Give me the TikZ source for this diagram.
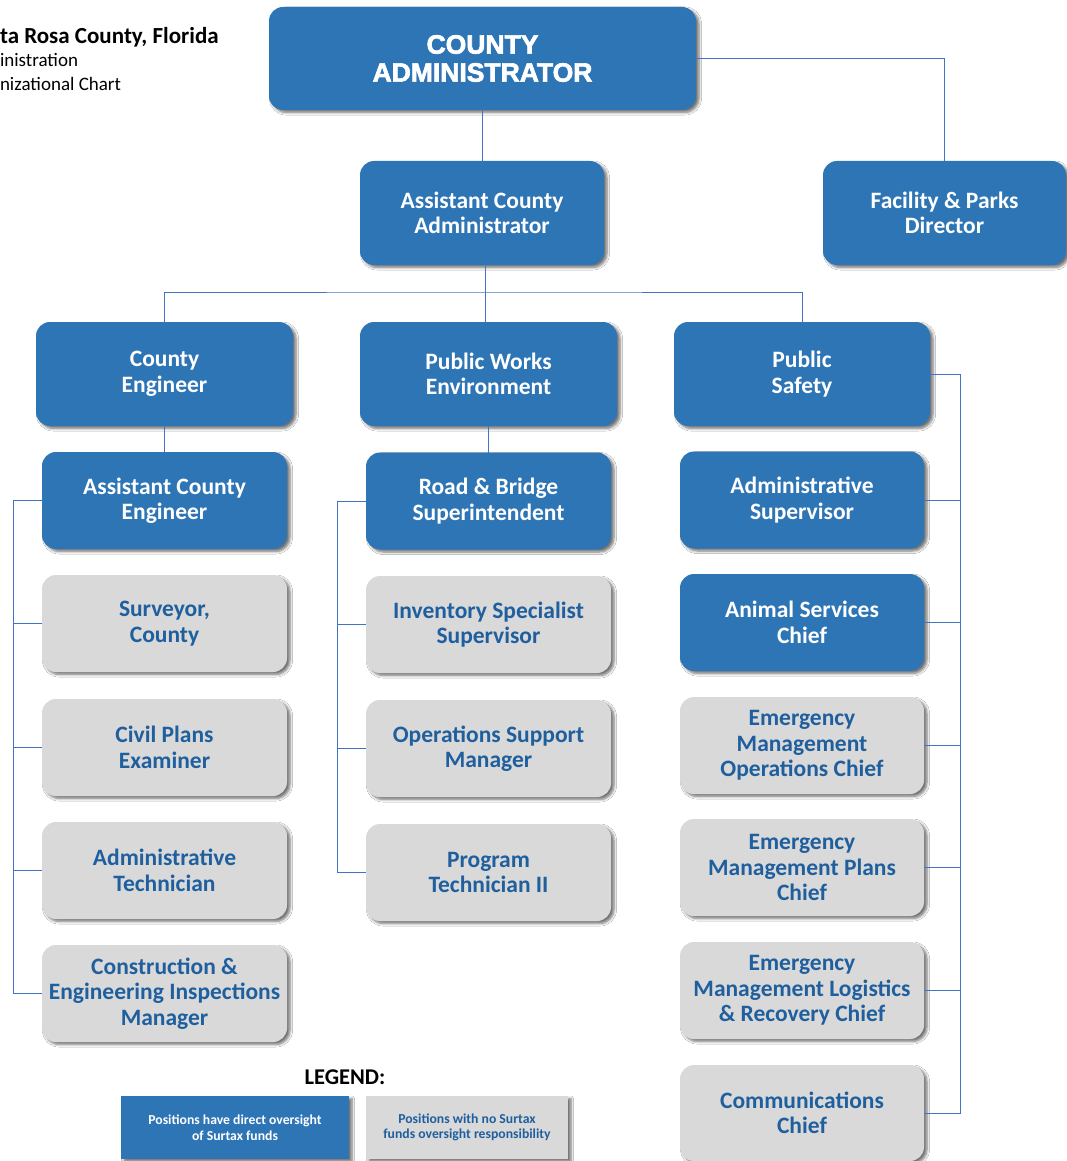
\documentclass[tikz,border=0pt]{standalone}
\usepackage{fontspec}
\setmainfont{Carlito}
\newfontfamily\titlefont[FakeBold=2.5]{Liberation Sans Bold}
\usetikzlibrary{shadows.blur}
\definecolor{boxblue}{HTML}{2E75B6}
\definecolor{boxgrey}{HTML}{D9D9D9}
\definecolor{txtblue}{HTML}{1F5F9E}
\definecolor{linecol}{HTML}{4472C4}
\tikzset{
  base/.style={rounded corners=14pt, minimum width=245pt, minimum height=97pt,
    inner sep=0pt, outer sep=0pt, align=center,
    font=\bfseries\fontsize{23.5}{25.5}\selectfont,
    blur shadow={shadow xshift=3pt, shadow yshift=-2.5pt, shadow blur steps=6,
      shadow blur radius=2.5pt, shadow opacity=55}},
  bluebox/.style={base, fill=boxblue, text=white},
  greybox/.style={base, fill=boxgrey, text=txtblue},
  bigbox/.style={minimum height=104pt},
  legbox/.style={rounded corners=0pt, minimum width=228pt, minimum height=63pt,
    font=\bfseries\fontsize{13.7}{15.5}\selectfont},
  conn/.style={draw=linecol, line width=0.9pt},
  hdr/.style={anchor=base west, inner sep=0pt, outer sep=0pt},
}
\begin{document}
\begin{tikzpicture}[x=1pt,y=-1pt]
\useasboundingbox (0,0) rectangle (1066,1161);
\fill[white] (0,0) rectangle (1066,1161);

% header text
\node[hdr, font=\bfseries\fontsize{23}{24}\selectfont] (h1) at (0,44) {ta Rosa County, Florida};
\node[hdr, font=\fontsize{19}{22}\selectfont] (h2) at (0,67) {inistration};
\node[hdr, font=\fontsize{19}{22}\selectfont] (h3) at (0,91) {nizational Chart};

% top levels
\node[bluebox, minimum width=427pt, minimum height=103pt,
  font=\titlefont\fontsize{26.5}{28}\selectfont] (ca) at (482.5,58.5) {COUNTY\\ADMINISTRATOR};
\node[bluebox, bigbox, minimum width=244pt] (aca) at (482,213) {Assistant County\\Administrator};
\node[bluebox, bigbox, minimum width=243pt] (fp) at (944.5,213) {Facility \& Parks\\Director};

\node[bluebox, bigbox, minimum width=257pt] (ce) at (164.5,374) {County\\Engineer};
\node[bluebox, bigbox, minimum width=257pt] (pw) at (488.5,374) {Public Works\\Environment};
\node[bluebox, bigbox, minimum width=256pt] (ps) at (802,374) {Public\\Safety};

% column 1
\node[bluebox] (ace) at (164.5,500.5) {Assistant County\\Engineer};
\node[greybox] (sv) at (164.5,623.5) {Surveyor,\\County};
\node[greybox] (cpe) at (164.5,747.5) {Civil Plans\\Examiner};
\node[greybox] (at) at (164.5,870.5) {Administrative\\Technician};
\node[greybox] (cei) at (164.5,993.5) {Construction \&\\Engineering Inspections\\Manager};

% column 2
\node[bluebox] (rb) at (488.5,501) {Road \& Bridge\\Superintendent};
\node[greybox] (inv) at (488.5,624.5) {Inventory Specialist\\Supervisor};
\node[greybox] (osm) at (488.5,748.5) {Operations Support\\Manager};
\node[greybox] (pt) at (488.5,872.5) {Program\\Technician II};

% column 3
\node[bluebox, minimum width=244pt] (as) at (802,500) {Administrative\\Supervisor};
\node[bluebox, minimum width=244pt] (anim) at (802,622.5) {Animal Services\\Chief};
\node[greybox, minimum width=244pt] (emo) at (802,745.5) {Emergency\\Management\\Operations Chief};
\node[greybox, minimum width=244pt] (emp) at (802,867.5) {Emergency\\Management Plans\\Chief};
\node[greybox, minimum width=244pt] (eml) at (802,990.5) {Emergency\\Management Logistics\\\& Recovery Chief};
\node[greybox, minimum width=244pt, minimum height=96pt] (cc) at (802,1113) {Communications\\Chief};

% legend
\node[font=\bfseries\fontsize{22.5}{24}\selectfont, inner sep=0pt] (leg) at (345,1077) {LEGEND:};
\node[bluebox, legbox] (lb) at (235,1127.5) {Positions have direct oversight\\of Surtax funds};
\node[greybox, legbox, minimum width=202pt] (lg) at (467,1127.5) {Positions with no Surtax\\funds oversight responsibility};

% connectors
\coordinate (j1) at (485,292);
\coordinate (lbus) at (13,0);
\coordinate (mbus) at (337,0);
\coordinate (rbus) at (960,0);

\draw[conn] (ca.south -| aca.north) -- (aca.north);
\draw[conn] (ca.east) -| (fp.north);
\draw[conn] (j1 |- aca.south) -- (j1 |- pw.north);
\draw[conn] (ce.north) |- (j1) -| (ps.north);
\draw[conn] (ce.south) -- (ace.north);
\draw[conn] (pw.south) -- (rb.north);

\draw[conn] (ace.west) -| (lbus |- cei.west) -- (cei.west);
\draw[conn] (sv.west) -- (lbus |- sv.west);
\draw[conn] (cpe.west) -- (lbus |- cpe.west);
\draw[conn] (at.west) -- (lbus |- at.west);

\draw[conn] (rb.west) -| (mbus |- pt.west) -- (pt.west);
\draw[conn] (inv.west) -- (mbus |- inv.west);
\draw[conn] (osm.west) -- (mbus |- osm.west);

\draw[conn] (ps.east) -| (rbus |- cc.east) -- (cc.east);
\draw[conn] (as.east) -- (rbus |- as.east);
\draw[conn] (anim.east) -- (rbus |- anim.east);
\draw[conn] (emo.east) -- (rbus |- emo.east);
\draw[conn] (emp.east) -- (rbus |- emp.east);
\draw[conn] (eml.east) -- (rbus |- eml.east);
\end{tikzpicture}
\end{document}
